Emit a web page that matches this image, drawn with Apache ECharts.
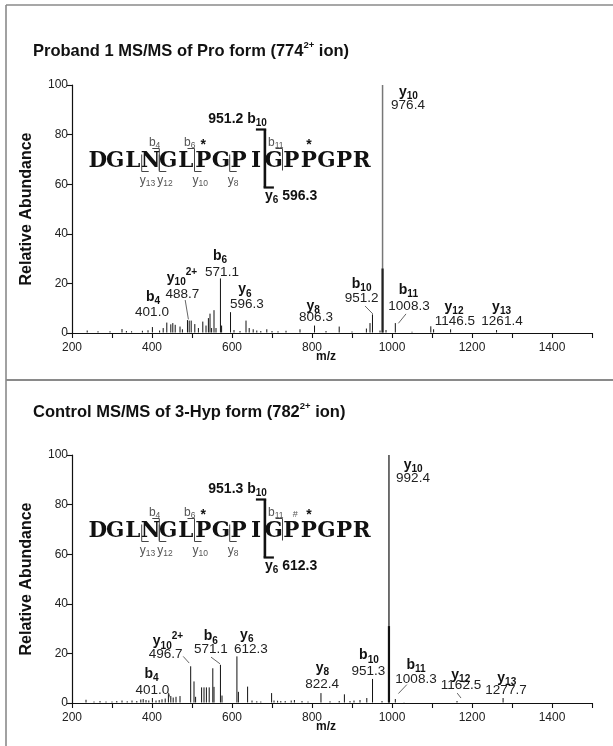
<!DOCTYPE html>
<html><head><meta charset="utf-8">
<script src="https://cdn.jsdelivr.net/npm/echarts@6/dist/echarts.min.js"></script>
<style>html,body{margin:0;padding:0;background:#fff;}#c{width:613px;height:746px;}</style>
</head><body><div id="c"></div>
<script>
// ---------------- data ----------------
const xTickLabels = ['200','400','600','800','1000','1200','1400'];
const yTickLabels = ['0','20','40','60','80','100'];

const probandMz  = [238,265,295,325,336,349,376,390,401.0,419,428,437,447,452,458,470,476,488.7,493,498,507,516,527,535,541,545,549,555,560,571.1,574,596.3,605,620,635,643,653,662,672,687,700,715,735,770,806.3,835,868,900,936,945,951.2,970,985,1008.3,1050,1097,1104,1146.5,1261.4];
const probandInt = [1.0,0.7,0.7,1.6,0.8,0.7,0.9,1.1,2.4,1.0,2.0,4.2,3.5,4.0,3.3,2.6,1.5,5.2,5.0,5.0,3.6,2.0,4.6,3.0,6.0,7.8,2.0,9.2,2.0,22.0,3.0,8.4,1.2,0.8,5.0,2.0,1.5,1.0,0.8,1.5,0.8,0.7,0.9,1.5,3.0,0.8,2.6,0.6,1.8,4.0,7.5,1.0,1.2,4.0,0.5,2.7,1.5,1.5,1.2];
const probandBaseMz = [976.4];
const probandBaseInt = [100];
const probandCoreInt = [26];

const controlMz  = [235,255,270,285,300,312,325,338,350,362,372,378,385,392,401.0,410,418,425,433,441,447,453,460,470,496.7,505,509,524,530,536,543,552,555,571.1,575,612.3,616,639,650,662,672,699,705,714,722,733,748,756,775,790,822.4,845,868,881,895,905,920,937,951.3,975,1008.3,1030,1162.5,1277.7];
const controlInt = [1.3,0.6,0.8,0.6,0.6,0.8,1.0,0.7,1.0,0.8,1.4,1.6,1.2,1.0,2.0,1.0,1.2,1.5,1.8,4.0,2.8,2.2,2.5,2.8,14.8,8.7,2.5,6.3,6.3,6.3,6.3,14.0,6.5,15.4,3.0,18.8,4.5,6.6,1.0,0.7,0.6,4.0,1.0,0.9,0.8,0.8,1.0,1.2,0.8,0.6,4.0,0.7,0.8,3.5,0.8,1.0,1.2,2.0,9.7,0.8,1.6,0.3,0.8,2.0];
const controlBaseMz = [992.4];
const controlBaseInt = [100];
const controlCoreInt = [31];

// ion annotations: [ion letter, subscript, superscript, m/z text]
const probandIons = [['b','4','','401.0'],['y','10','2+','488.7'],['b','6','','571.1'],['y','6','','596.3'],['y','8','','806.3'],['b','10','','951.2'],['b','11','','1008.3'],['y','12','','1146.5'],['y','13','','1261.4'],['y','10','','976.4']];
const controlIons = [['b','4','','401.0'],['y','10','2+','496.7'],['b','6','','571.1'],['y','6','','612.3'],['y','8','','822.4'],['b','10','','951.3'],['b','11','','1008.3'],['y','12','','1162.5'],['y','13','','1277.7'],['y','10','','992.4']];

const titles = [['Proband 1 MS/MS of Pro form (774','2+',' ion)'],['Control MS/MS of 3-Hyp form (782','2+',' ion)']];
const sequence = 'DGLNGLPGPIGPPGPR';
const seqBIons = [4,6,11];
const seqYIons = [13,12,10,8];
const bigB = 10, bigY = 6;
const bigValues = [['951.2','596.3'],['951.3','612.3']];
const starResidues = [[6,12],[6,12]];
const hashResidues = [[],[11]];

// ---------------- layout (positions in data units of each panel) ----------------
const layout = [
  { gridTop: 85, titleY: 51,
    ionPos: [[402.5,14.5],[475,22.2],[570,31],[632.5,17.6],[803,10.9],[924,19.8],[1041,17.3],[1155,10.6],[1274,10.5],[1041,97.3]],
    valPos: [[400,8.5],[476,15.7],[575,24.6],[637,11.6],[810,6.3],[924,14.1],[1042.5,10.9],[1157,4.6],[1275,4.6],[1040,91.9]],
    leaders: [[[483,13.3],[491,5.5]],[[932.5,10.9],[952,7.7]],[[1035,7.7],[1016,3.9]]] },
  { gridTop: 455, titleY: 412,
    ionPos: [[399,11.8],[440,24.8],[547,26.9],[637,27.5],[826,14.1],[942.5,19.1],[1060,15.4],[1172,11.4],[1287,10.1],[1053,96.1]],
    valPos: [[401,5.1],[434,19.5],[547,21.5],[647,21.5],[825.5,7.4],[941,12.7],[1060,9.7],[1172.5,7],[1285,5.1],[1052.5,90.7]],
    leaders: [[[441,4.2],[447,1.7]],[[478,18.8],[493,16.1]],[[547.5,18.5],[570,15.8]],[[1037,7.4],[1016,3.8]],[[1163,4],[1172.5,2]]] }
];

const SANS = '"Liberation Sans", Arial, Helvetica, sans-serif';
const SERIF = '"DejaVu Serif", "Liberation Serif", serif';
const GRID_H = 248, GRID_L = 72, GRID_W = 520;

const chart = echarts.init(document.getElementById('c'), null, {renderer:'canvas'});

function pairs(xs, ys){ return xs.map((x,i)=>[x, ys[i]]); }
function stickSeries(gi, data, color, width, z){
  return { type:'custom', xAxisIndex:gi, yAxisIndex:gi, z:z, silent:true, clip:false,
    renderItem:function(params, api){
      const p0 = api.coord([api.value(0), 0]);
      const p1 = api.coord([api.value(0), api.value(1)]);
      return {type:'line', shape:{x1:p0[0],y1:p0[1]-0.5,x2:p1[0],y2:p1[1]}, style:{stroke:color, lineWidth:width}};
    },
    data: data };
}

const grids = [], xAxes = [], yAxes = [], series = [];
[0,1].forEach(gi=>{
  grids.push({left:GRID_L, top:layout[gi].gridTop, width:GRID_W, height:GRID_H});
  xAxes.push({gridIndex:gi, type:'value', min:200, max:1500, interval:100,
    axisLine:{show:true, onZero:false, lineStyle:{color:'#111', width:1.2}},
    axisTick:{show:true, length:5, lineStyle:{color:'#111', width:1.1}},
    axisLabel:{color:'#222', fontSize:12, fontFamily:SANS, margin:9,
      formatter:v=> xTickLabels.includes(String(v)) ? String(v) : ''},
    splitLine:{show:false}});
  yAxes.push({gridIndex:gi, type:'value', min:0, max:100, interval:20,
    axisLine:{show:true, lineStyle:{color:'#111', width:1.2}},
    axisTick:{show:true, length:5, lineStyle:{color:'#111', width:1.1}},
    axisLabel:{color:'#222', fontSize:12, fontFamily:SANS, margin:4,
      formatter:v=> yTickLabels.includes(String(v)) ? String(v) : ''},
    splitLine:{show:false}});
});
series.push(stickSeries(0, pairs(probandMz, probandInt), '#111', 1, 2));
series.push(stickSeries(0, pairs(probandBaseMz, probandBaseInt), '#777', 1.5, 3));
series.push(stickSeries(0, pairs(probandBaseMz, probandCoreInt), '#222', 2.2, 4));
series.push(stickSeries(1, pairs(controlMz, controlInt), '#111', 1, 2));
series.push(stickSeries(1, pairs(controlBaseMz, controlBaseInt), '#333', 1.4, 3));
series.push(stickSeries(1, pairs(controlBaseMz, controlCoreInt), '#111', 2.2, 4));

chart.setOption({animation:false, backgroundColor:'#fff', grid:grids, xAxis:xAxes, yAxis:yAxes, series:series});

// ---------------- annotations ----------------
const mctx = document.createElement('canvas').getContext('2d');
function fontStr(size,bold,fam){ return (bold?'bold ':'')+size+'px '+(fam||SANS); }
function measure(t,f){ mctx.font=f; return mctx.measureText(t).width; }
function runEls(parts, x, y, align){
  const ws = parts.map(p=>measure(p.t, fontStr(p.size,p.bold,p.fam)));
  const total = ws.reduce((a,b)=>a+b,0);
  let cx = align==='center' ? x-total/2 : (align==='right' ? x-total : x);
  return parts.map((p,i)=>{
    const el = {type:'text', silent:true, z:100, style:{text:p.t, x:cx, y:y+(p.dy||0), font:fontStr(p.size,p.bold,p.fam), fill:p.fill||'#111', textAlign:'left', textVerticalAlign:'middle'}};
    cx += ws[i]; return el;
  });
}
function ln(x1,y1,x2,y2,color,w){ return {type:'line', silent:true, z:100, shape:{x1,y1,x2,y2}, style:{stroke:color, lineWidth:w}}; }
function ionParts(ion, sub, sup, size, fill){
  const a=[{t:ion,size:size,bold:true,fill:fill}];
  if(sub) a.push({t:sub,size:size*0.72,bold:true,dy:size*0.32,fill:fill});
  if(sup) a.push({t:sup,size:size*0.72,bold:true,dy:-size*0.38,fill:fill});
  return a;
}

function build(){
  const els = [];
  // frame
  els.push(ln(6,5,613,5,'#8a8a8a',1.6), ln(6,5,6,746,'#8a8a8a',1.6), ln(6,380,613,380,'#8a8a8a',1.8));
  [0,1].forEach(gi=>{
    const L = layout[gi];
    const ions = gi===0 ? probandIons : controlIons;
    const toPx = (p)=>chart.convertToPixel({gridIndex:gi}, p);
    // title
    const t = titles[gi];
    els.push(...runEls([{t:t[0],size:16.5,bold:true},{t:t[1],size:9.5,bold:true,dy:-6},{t:t[2],size:16.5,bold:true}], 33, L.titleY, 'left'));
    // y axis name
    els.push({type:'text', silent:true, z:100, x:27, y:L.gridTop+GRID_H/2, rotation:Math.PI/2,
      style:{text:'Relative Abundance', x:0, y:0, font:fontStr(16,true), fill:'#111', textAlign:'center', textVerticalAlign:'middle'}});
    // m/z
    els.push(...runEls([{t:'m/z',size:12,bold:true}], 326, L.gridTop+GRID_H+24, 'center'));
    // ion labels
    ions.forEach((ion,i)=>{
      const ip = toPx(L.ionPos[i]);
      els.push(...runEls(ionParts(ion[0],ion[1],ion[2],14,'#111'), ip[0], ip[1], 'center'));
      const vp = toPx(L.valPos[i]);
      els.push(...runEls([{t:ion[3],size:13.5,bold:false,fill:'#222'}], vp[0], vp[1], 'center'));
    });
    L.leaders.forEach(ld=>{
      const a=toPx(ld[0]), b=toPx(ld[1]);
      els.push(ln(a[0],a[1],b[0],b[1],'#555',0.9));
    });
    // sequence
    const cy = L.gridTop + 76.5;
    const x0 = 97.7, adv = 17.6;
    const cxOf = i => x0 + i*adv;
    const bx = k => x0 + (k-0.5)*adv;
    for(let i=0;i<sequence.length;i++){
      els.push({type:'text', silent:true, z:100, style:{text:sequence[i], x:cxOf(i), y:cy, font:fontStr(21.5,true,SERIF), fill:'#111', textAlign:'center', textVerticalAlign:'middle'}});
    }
    seqBIons.forEach(n=>{
      const x = bx(n);
      els.push(ln(x, cy-13, x, cy+9, '#444', 1));
      els.push(ln(x-7, cy-13, x, cy-13, '#444', 1));
      els.push(...runEls([{t:'b',size:12,fill:'#555'},{t:String(n),size:8.5,dy:3,fill:'#555'}], x+1, cy-19, 'right'));
    });
    seqYIons.forEach(n=>{
      const k = sequence.length - n;
      const x = bx(k);
      els.push(ln(x, cy-7, x, cy+10, '#444', 1));
      els.push(ln(x, cy+10, x+7, cy+10, '#444', 1));
      els.push(...runEls([{t:'y',size:12,fill:'#555'},{t:String(n),size:8.5,dy:3,fill:'#555'}], x-2, cy+19, 'left'));
    });
    // big bracket
    const X = bx(bigB);
    els.push(ln(X, cy-32, X, cy+26, '#111', 2.6));
    els.push(ln(X-9, cy-32, X+1.3, cy-32, '#111', 2.2));
    els.push(ln(X-1.3, cy+26, X+9, cy+26, '#111', 2.2));
    els.push(...runEls([{t:bigValues[gi][0]+' b',size:14,bold:true},{t:String(bigB),size:10,bold:true,dy:4}], X+2, cy-42, 'right'));
    els.push(...runEls([{t:'y',size:14,bold:true},{t:String(bigY),size:10,bold:true,dy:4},{t:' '+bigValues[gi][1],size:14,bold:true}], X, cy+35, 'left'));
    starResidues[gi].forEach(i=>{
      els.push(...runEls([{t:'*',size:14,bold:true}], cxOf(i), cy-16, 'center'));
    });
    hashResidues[gi].forEach(i=>{
      els.push(...runEls([{t:'#',size:9,fill:'#555'}], cxOf(i)+4, cy-17, 'center'));
    });
  });
  chart.setOption({graphic:{elements:els}});
}
build();
</script>
</body></html>
